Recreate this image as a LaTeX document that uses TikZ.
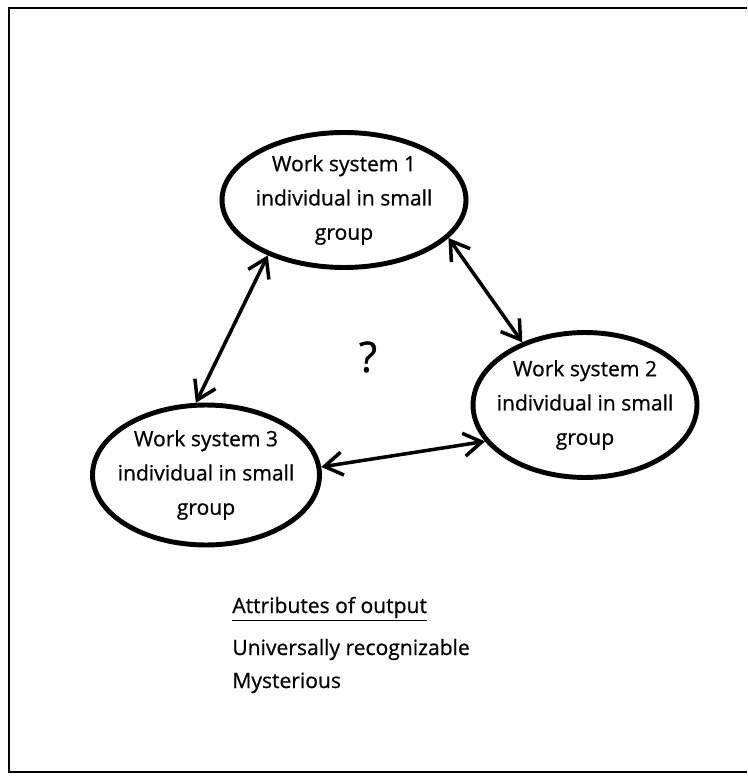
\documentclass[tikz,border=0pt]{standalone}
\usepackage{fontspec}
\setmainfont{Open Sans}[BoldFont={Open Sans},BoldFeatures={FakeBold=0.7}]
\usetikzlibrary{shapes.geometric,arrows.meta}
\tikzset{
  pen/.style={font=\fontsize{12}{19.5}\selectfont\bfseries},
  wsys/.style={ellipse,draw,line width=2.8pt,inner xsep=-8pt,inner ysep=0pt,align=center,pen},
  link/.style={{Straight Barb[length=3.6mm,width=4.6mm]}-{Straight Barb[length=3.6mm,width=4.6mm]},line width=2pt}
}
\begin{document}
\begin{tikzpicture}[x=0.02cm,y=-0.02cm]
  \useasboundingbox (0,0) rectangle (747,776);
  % Frame
  \draw[line width=1.6pt] (747,8) -- (9,8) -- (9,772) -- (747,772);
  % Work systems
  \node[wsys,minimum width=4.88cm,minimum height=2.7cm] (ws1) at (344,200)
    {Work system 1\\individual in small\\group};
  \node[wsys,minimum width=4.48cm,minimum height=2.9cm] (ws2) at (585,405)
    {Work system 2\\individual in small\\group};
  \node[wsys,minimum width=4.54cm,minimum height=2.8cm] (ws3) at (206,475)
    {Work system 3\\individual in small\\group};
  % Links
  \draw[link] (ws1.-20) -- (ws2.135);
  \draw[link] (ws1.-144) -- (ws3.98);
  \draw[link] (ws3.4) -- (ws2.200);
  \node[font=\fontsize{24}{28}\selectfont\bfseries] (q) at (368,357) {?};
  % Attributes
  \node[anchor=base west,pen,inner sep=0pt] (attr) at (232,613)
    {\underline{Attributes of output}};
  \node[anchor=base west,pen,inner sep=0pt] (univ) at (232,655)
    {Universally recognizable};
  \node[anchor=base west,pen,inner sep=0pt] (myst) at (232,688)
    {Mysterious};
\end{tikzpicture}
\end{document}
